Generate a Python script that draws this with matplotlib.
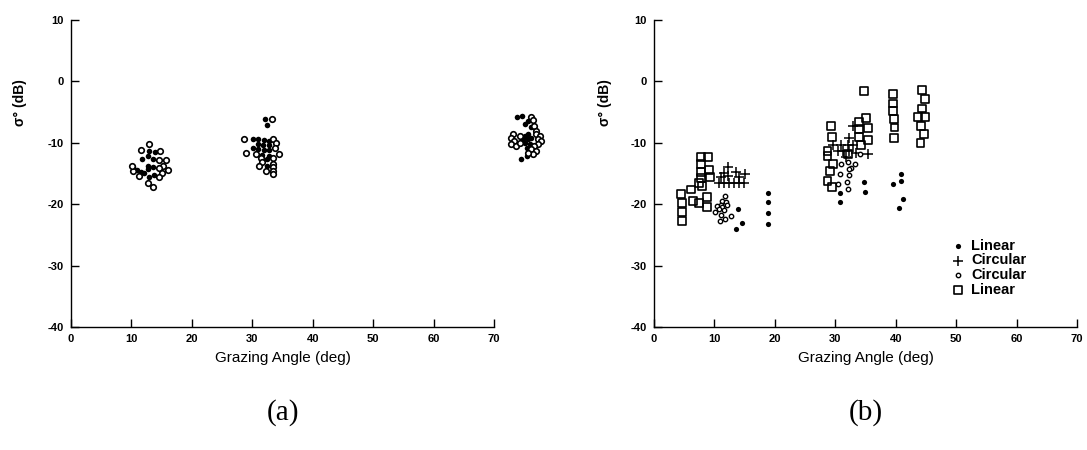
import matplotlib
matplotlib.use("Agg")
import matplotlib.pyplot as plt

plt.rcParams["font.family"] = ["Liberation Sans", "DejaVu Sans"]
plt.rcParams["axes.unicode_minus"] = False

# ---- Panel (a): backscatter vs grazing angle, two polarisations ----
a_filled_deg = [12.9, 13.9, 12.7, 11.8, 13.5, 12.7, 13.6, 10.3, 11.0, 11.6, 12.1, 13.7, 12.9, 12.7,
                32.1, 32.5, 30.1, 30.9, 31.9, 32.7, 30.9, 31.8, 32.7, 30.1, 31.0, 31.9, 32.8, 31.6,
                32.7, 32.5, 32.5,
                73.9, 74.7, 75.7, 75.2, 76.2, 75.1, 74.8, 75.1, 75.6, 75.6, 75.9, 75.4, 76.2, 75.4, 74.5]
a_filled_db = [-11.3, -11.5, -12.2, -12.7, -12.7, -13.8, -13.9, -14.0, -14.4, -14.8, -14.9, -15.2, -15.6, -14.3,
               -6.2, -7.1, -9.3, -9.4, -9.5, -9.7, -10.25, -10.4, -10.4, -10.9, -11.0, -11.2, -11.2, -12.0,
               -12.1, -12.7, -13.8,
               -5.8, -5.7, -6.5, -6.9, -7.5, -8.9, -9.4, -10.0, -8.6, -9.4, -10.25, -10.8, -9.2, -12.1, -12.6]

a_open_deg = [12.9, 11.6, 14.7, 14.6, 15.8, 15.3, 14.6, 16.0, 10.3, 15.1, 11.3, 14.5, 12.8, 13.6, 10.1,
              33.3, 28.7, 33.5, 33.9, 33.7, 28.9, 30.7, 34.4, 31.4, 33.5, 31.6, 33.5, 31.1, 33.5, 32.2,
              33.5, 33.5,
              76.2, 76.5, 76.7, 77.0, 73.2, 72.9, 73.3, 72.9, 73.7, 74.3, 74.3, 77.0, 77.6, 77.3, 77.8,
              77.3, 76.6, 76.2, 77.0, 76.5, 75.6]
a_open_db = [-10.25, -11.1, -11.4, -12.8, -12.8, -13.8, -14.1, -14.5, -14.65, -14.9, -15.4, -15.5, -16.6, -17.2, -13.8,
             -6.1, -9.3, -9.3, -10.1, -10.9, -11.7, -11.8, -11.8, -12.4, -12.5, -13.1, -13.4, -13.8, -13.9, -14.6,
             -14.6, -15.1,
             -5.8, -6.35, -7.2, -8.0, -8.6, -9.2, -9.7, -10.25, -10.5, -8.9, -10.0, -8.6, -8.9, -9.4, -9.7,
             -10.25, -10.5, -11.0, -11.3, -11.8, -11.6]

# ---- Panel (b): four measurement sets ----
b_lin_dot_deg = [13.9, 14.5, 13.6, 18.8, 18.8, 18.8, 18.8, 34.8, 34.9, 30.7, 30.7, 40.9, 39.5, 40.9, 41.2, 40.6]
b_lin_dot_db = [-20.8, -23.1, -24.0, -18.2, -19.7, -21.4, -23.2, -16.4, -18.0, -18.1, -19.6, -15.1, -16.7, -16.2,
                -19.2, -20.6]

b_circ_plus_deg = [12.3, 11.6, 13.5, 15.1, 11.1, 12.2, 14.1, 10.8, 11.6, 12.4, 13.3, 14.1, 14.9,
                   32.9, 32.3, 29.6, 31.0, 32.1, 32.9, 30.4, 31.2, 32.3, 33.4, 35.4, 31.8]
b_circ_plus_db = [-13.9, -14.9, -14.7, -15.0, -15.6, -15.4, -15.5, -16.6, -16.6, -16.6, -16.6, -16.6, -16.6,
                  -7.2, -9.2, -10.3, -10.3, -10.4, -10.4, -11.4, -11.4, -11.4, -11.6, -11.8, -12.3]

b_circ_ring_deg = [11.8, 11.2, 11.9, 11.1, 12.0, 10.5, 11.3, 10.7, 11.6, 10.1, 11.1, 12.7, 11.8, 10.9,
                   34.1, 31.0, 32.1, 33.2, 32.6, 32.2, 30.8, 32.3, 32.0, 30.5, 32.1]
b_circ_ring_db = [-18.7, -19.4, -19.7, -20.1, -20.2, -20.3, -20.5, -20.8, -21.0, -21.3, -21.7, -21.9, -22.4, -22.7,
                  -11.8, -13.4, -13.1, -13.5, -14.1, -14.2, -15.0, -15.3, -16.3, -16.7, -17.5]

b_lin_sq_deg = [7.7, 9.0, 7.7, 7.7, 9.1, 9.2, 7.7, 7.5, 8.0, 6.1, 4.5, 6.4, 7.5, 8.7, 8.8, 4.6, 4.6, 4.6,
                34.7, 39.5, 39.5, 39.5, 39.7, 39.8, 39.7, 44.4, 44.8, 44.4, 43.7, 44.9, 44.2, 44.7, 44.1,
                29.3, 35.1, 33.9, 35.4, 29.4, 33.9, 33.9, 35.4, 34.2, 28.7, 28.7, 32.1, 29.6, 29.1, 28.7, 29.4]
b_lin_sq_db = [-12.3, -12.3, -13.5, -14.7, -14.4, -15.5, -15.7, -16.6, -17.0, -17.6, -18.3, -19.5, -19.8, -18.8,
               -20.4, -19.8, -21.2, -22.7,
               -1.5, -2.1, -3.6, -4.8, -6.1, -7.5, -9.2, -1.4, -2.9, -4.4, -5.8, -5.8, -7.2, -8.6, -10.0,
               -7.3, -5.9, -6.6, -7.6, -9.0, -7.7, -9.0, -9.6, -10.4, -11.4, -12.2, -11.8, -13.4, -14.6, -16.2, -17.2]

legend_labels = ["Linear", "Circular", "Circular", "Linear"]
x_ticks = [0, 10, 20, 30, 40, 50, 60, 70]
y_ticks = [-40, -30, -20, -10, 0, 10]

fig = plt.figure(figsize=(10.87, 4.5), dpi=100)
ax_a = fig.add_axes([0.0653, 0.2733, 0.3891, 0.6822])
ax_b = fig.add_axes([0.6017, 0.2733, 0.3891, 0.6822])


def style_axes(ax, label_x):
    ax.set_xlim(0, 70)
    ax.set_ylim(-40, 10)
    ax.set_xticks(x_ticks)
    ax.set_yticks(y_ticks)
    for side in ("top", "right"):
        ax.spines[side].set_visible(False)
    for side in ("left", "bottom"):
        ax.spines[side].set_linewidth(1.0)
    ax.tick_params(direction="in", length=6, width=1.0, labelsize=8, pad=5)
    for lab in ax.get_xticklabels() + ax.get_yticklabels():
        lab.set_fontweight("bold")
    ax.set_xlabel("Grazing Angle (deg)", fontsize=11, labelpad=5)
    ax.set_ylabel("σ° (dB)", fontsize=10, fontweight="bold")
    ax.yaxis.set_label_coords(label_x, 0.73)


style_axes(ax_a, -0.105)
style_axes(ax_b, -0.10)

# Panel (a) markers
ax_a.scatter(a_filled_deg, a_filled_db, s=16, c="black", marker="o", linewidths=0, clip_on=False, zorder=3)
ax_a.scatter(a_open_deg, a_open_db, s=16, facecolors="white", edgecolors="black", marker="o",
             linewidths=1.2, clip_on=False, zorder=3)

# Panel (b) markers
h1 = ax_b.scatter(b_lin_dot_deg, b_lin_dot_db, s=14, c="black", marker="o", linewidths=0,
                  clip_on=False, zorder=3)
h2 = ax_b.scatter(b_circ_plus_deg, b_circ_plus_db, s=45, c="black", marker="+", linewidths=1.1,
                  clip_on=False, zorder=3)
h3 = ax_b.scatter(b_circ_ring_deg, b_circ_ring_db, s=10, facecolors="white", edgecolors="black",
                  marker="o", linewidths=1.0, clip_on=False, zorder=3)
h4 = ax_b.scatter(b_lin_sq_deg, b_lin_sq_db, s=32, facecolors="none", edgecolors="black", marker="s",
                  linewidths=1.2, clip_on=False, zorder=2)

ax_b.legend([h1, h2, h3, h4], legend_labels, loc="upper left", bbox_to_anchor=(0.702, 0.288),
            frameon=False, borderpad=0, borderaxespad=0, handlelength=1.0, handletextpad=0.4,
            labelspacing=0.05, prop={"weight": "bold", "size": 10.5})

fig.text(283 / 1087, 1 - 413 / 450, "(a)", family=["Liberation Serif", "DejaVu Serif"], fontsize=21,
         ha="center", va="center")
fig.text(866 / 1087, 1 - 413 / 450, "(b)", family=["Liberation Serif", "DejaVu Serif"], fontsize=21,
         ha="center", va="center")

fig.savefig("out.png", dpi=100, facecolor="white")
